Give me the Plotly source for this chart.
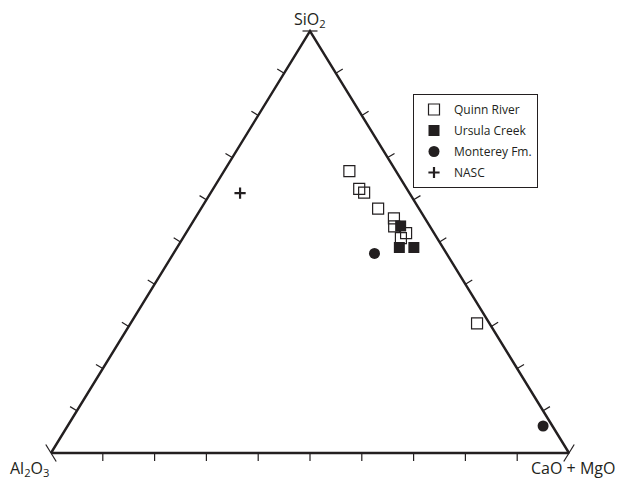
import math
import plotly.graph_objects as go

# ---- Data: compositions in % (SiO2, Al2O3, CaO+MgO) ----
quinn_sio2 = [66.8, 62.6, 61.7, 57.9, 55.6, 53.7, 52.1, 50.9, 30.7]
quinn_al2o3 = [9.0, 9.2, 8.7, 7.9, 6.0, 6.9, 5.4, 7.0, 2.4]
quinn_camgo = [24.2, 28.2, 29.6, 34.2, 38.4, 39.4, 42.5, 42.1, 66.9]

ursula_sio2 = [53.8, 48.7, 48.7]
ursula_al2o3 = [5.6, 8.4, 5.6]
ursula_camgo = [40.6, 42.9, 45.7]

monterey_sio2 = [47.3, 6.4]
monterey_al2o3 = [13.9, 1.8]
monterey_camgo = [38.8, 91.8]

nasc_sio2 = [61.6]
nasc_al2o3 = [32.7]
nasc_camgo = [5.7]

tick_values = [10, 20, 30, 40, 50, 60, 70, 80, 90]
apex_label = "SiO<sub>2</sub>"
left_label = "Al<sub>2</sub>O<sub>3</sub>"
right_label = "CaO + MgO"

INK = "#231f20"
FONT = "Open Sans"

# The page body has the browser's default 8px margin, so the figure is
# sized to fill the rest of the 625x486 window.
PAGE_MARGIN = 8
W, H = 625 - PAGE_MARGIN, 486 - PAGE_MARGIN
# pixel per unit on the two cartesian axes (plot is slightly squashed vertically)
SX, SY = 5.18, 4.22
X0_PX, Y0_PX = 51 - PAGE_MARGIN, 453 - PAGE_MARGIN


def proj(s, a, c):
    xs, ys = [], []
    for si, ai, ci in zip(s, a, c):
        t = si + ai + ci
        xs.append((ci + si / 2.0) / t * 100.0)
        ys.append(si / t * 100.0)
    return xs, ys


def seg(x, y, ux, uy, l0, l1, xs, ys):
    n = math.hypot(ux, uy)
    ux, uy = ux / n, uy / n
    xs += [x + ux * l0 / SX, x + ux * l1 / SX, None]
    ys += [y + uy * l0 / SY, y + uy * l1 / SY, None]


fig = go.Figure()

# triangle frame
vx, vy = proj([0, 0, 100, 0], [100, 0, 0, 100], [0, 100, 0, 0])
fig.add_trace(go.Scatter(x=vx, y=vy, mode="lines", line=dict(color=INK, width=2.4),
                         hoverinfo="skip", showlegend=False))

# ticks
tx, ty = [], []
TL = 8
ex, ey = 50 * SX, 100 * SY  # pixel direction of left edge
for v in tick_values:
    # bottom edge (CaO+MgO fraction)
    seg(v, 0, 0, -1, 0, TL, tx, ty)
    # left edge
    lx, ly = proj([v], [100 - v], [0])
    seg(lx[0], ly[0], -ey, ex, 0, TL, tx, ty)
    # right edge
    rx, ry = proj([v], [0], [100 - v])
    seg(rx[0], ry[0], ey, ex, 0, TL, tx, ty)
# strokes crossing the three corners
seg(50, 100, 1, 0, -7.5, 7.5, tx, ty)
seg(0, 0, -ex, ey, -10, 10, tx, ty)
seg(100, 0, ex, ey, -10, 10, tx, ty)
fig.add_trace(go.Scatter(x=tx, y=ty, mode="lines", line=dict(color=INK, width=1.2),
                         hoverinfo="skip", showlegend=False))

# data series
qx, qy = proj(quinn_sio2, quinn_al2o3, quinn_camgo)
fig.add_trace(go.Scatter(x=qx, y=qy, mode="markers", name="Quinn River", legendgroup="q",
                         marker=dict(symbol="square-open", size=11, color=INK,
                                     line=dict(width=1.2, color=INK))))
ux_, uy_ = proj(ursula_sio2, ursula_al2o3, ursula_camgo)
fig.add_trace(go.Scatter(x=ux_, y=uy_, mode="markers", name="Ursula Creek", legendgroup="u",
                         marker=dict(symbol="square", size=11, color=INK)))
mx, my = proj(monterey_sio2, monterey_al2o3, monterey_camgo)
fig.add_trace(go.Scatter(x=mx, y=my, mode="markers", name="Monterey Fm.", legendgroup="m",
                         marker=dict(symbol="circle", size=11, color=INK)))
nx, ny = proj(nasc_sio2, nasc_al2o3, nasc_camgo)
fig.add_trace(go.Scatter(x=nx, y=ny, mode="markers", name="NASC", legendgroup="n",
                         marker=dict(symbol="cross-thin-open", size=8, color=INK,
                                     line=dict(width=2.2, color=INK))))

# corner labels
fig.add_annotation(x=50, y=100, xref="x", yref="y", text=apex_label, showarrow=False,
                   xanchor="center", yanchor="middle", xshift=0, yshift=12,
                   font=dict(family=FONT, size=16, color=INK))
fig.add_annotation(x=0, y=0, xref="x", yref="y", text=left_label, showarrow=False,
                   xanchor="right", yanchor="middle", xshift=0, yshift=-15,
                   font=dict(family=FONT, size=16, color=INK))
fig.add_annotation(x=100, y=0, xref="x", yref="y", text=right_label, showarrow=False,
                   xanchor="center", yanchor="middle", xshift=4, yshift=-15,
                   font=dict(family=FONT, size=16, color=INK))

fig.update_xaxes(visible=False, range=[-X0_PX / SX, (W - X0_PX) / SX])
fig.update_yaxes(visible=False, range=[-(H - Y0_PX) / SY, Y0_PX / SY])
fig.update_layout(
    width=W, height=H,
    margin=dict(l=0, r=0, t=0, b=0),
    paper_bgcolor="white", plot_bgcolor="white",
    showlegend=True,
    legend=dict(x=(413 - PAGE_MARGIN) / W, y=1 - (94 - PAGE_MARGIN) / H,
                xanchor="left", yanchor="top",
                bgcolor="white", bordercolor=INK, borderwidth=1,
                font=dict(family=FONT, size=12, color=INK),
                traceorder="grouped", tracegroupgap=2),
)

fig.write_html("out.html")
